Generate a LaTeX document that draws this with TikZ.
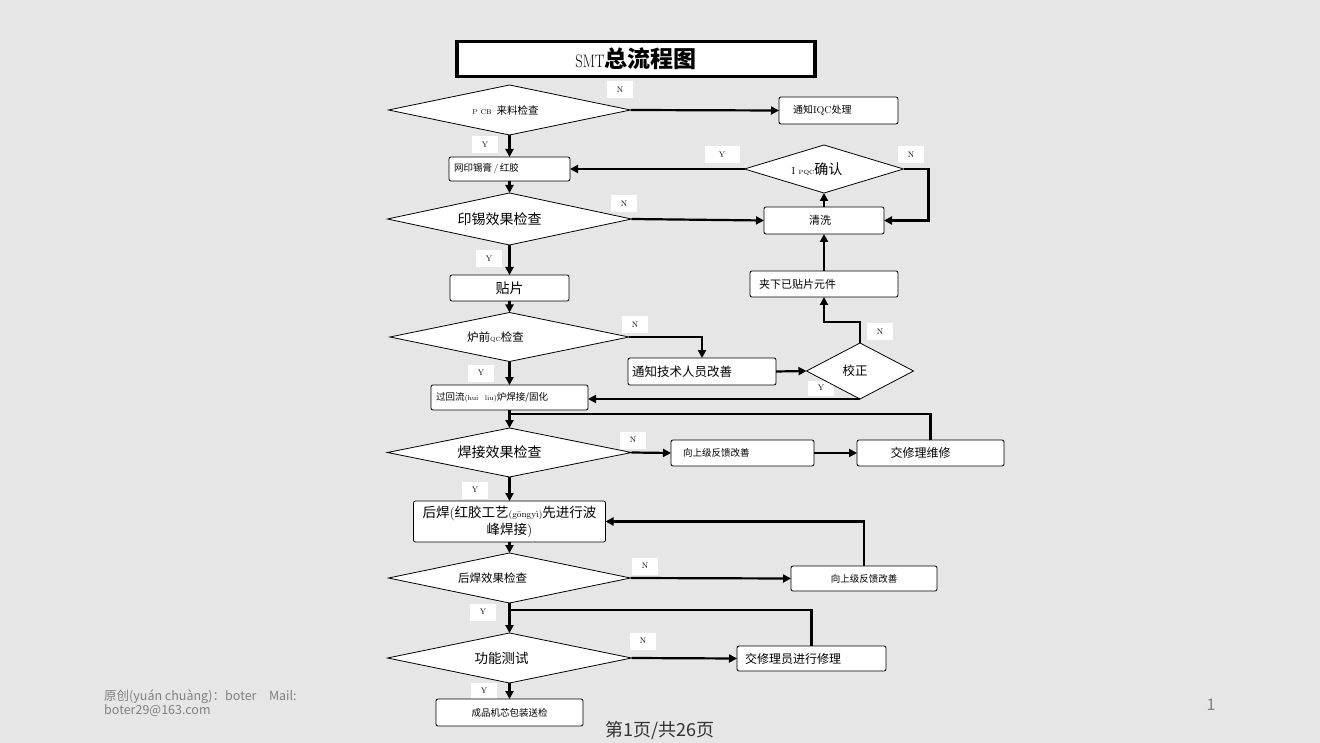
\documentclass[tikz,border=0pt]{standalone}
\usepackage{fontspec}
\newfontfamily\zhfont{Noto Sans CJK SC}
\usetikzlibrary{arrows.meta, shapes.geometric}
\definecolor{bgc}{RGB}{230,230,230}
\definecolor{ftc}{RGB}{128,128,128}
\definecolor{pgc}{RGB}{51,51,51}
\newcommand{\fsz}[1]{\fontsize{#1}{#1}\selectfont}

\begin{document}
\begin{tikzpicture}[x=1pt, y=-1pt, >={Triangle[length=8pt,width=8pt]},
  dec/.style={diamond, aspect=5, draw, fill=white, line width=0.8pt, inner sep=0pt, outer sep=0pt},
  blk/.style={draw, fill=white, rounded corners=2pt, line width=0.8pt, inner sep=0pt, outer sep=0pt},
  yn/.style={fill=white, minimum width=26pt, minimum height=17pt, inner sep=0pt, font=\fsz{8}},
  flow/.style={line width=2.2pt}]
\useasboundingbox (0,0) rectangle (1320,743);
\fill[bgc] (0,0) rectangle (1320,743);

\path (636,59) node[draw, line width=3.5pt, fill=white, minimum width=358pt, minimum height=35pt] (title) {\scalebox{0.8}[1]{\fsz{18}SMT}{\zhfont\bfseries\fsz{23}总流程图}};

\path (620,90) node[yn] (n1) {N}
      (485,145) node[yn] (y1) {Y}
      (722,155) node[yn, minimum width=35pt] (y2) {Y}
      (911,155) node[yn] (n2) {N}
      (624,204) node[yn] (n3) {N}
      (489,259) node[yn] (y3) {Y}
      (635,325) node[yn] (n4) {N}
      (880,332) node[yn] (n5) {N}
      (821,388) node[yn, minimum height=15pt] (y4) {Y}
      (481,373) node[yn] (y5) {Y}
      (633,440) node[yn] (n6) {N}
      (475,490) node[yn] (y6) {Y}
      (645,566) node[yn] (n7) {N}
      (483,612) node[yn] (y7) {Y}
      (643,641) node[yn] (n8) {N}
      (484,691) node[yn] (y8) {Y};

\path (509.5,110) node[dec, minimum width=242pt, minimum height=50pt, font=\zhfont\fsz{10.5}] (d1) {{\rmfamily\fsz{7}P CB}\ \ 来料检查\kern8pt}
      (838.5,110.5) node[blk, minimum height=27pt, text width=91pt, inner xsep=14pt, align=left, font=\zhfont\fsz{10}] (iqc) {通知{\rmfamily IQC}处理}
      (509.5,169) node[blk, minimum height=24pt, text width=111pt, inner xsep=5pt, align=left, font=\zhfont\fsz{9.5}] (yin) {网印锡膏{\rmfamily\,/\,}红胶}
      (509.5,219) node[dec, minimum width=244pt, minimum height=52pt, font=\zhfont\fsz{14}] (d2) {印锡效果检查\kern20pt}
      (824,220.5) node[blk, minimum width=120pt, minimum height=27pt, font=\zhfont\fsz{11}] (qx) {清洗\kern8pt}
      (824,169) node[dec, minimum width=159pt, minimum height=48pt, font=\zhfont\fsz{14}] (ipqc) {{\rmfamily\fsz{10}I \fsz{6}PQC}确认\kern14pt}
      (824,284) node[blk, minimum height=26pt, text width=130pt, inner xsep=9pt, align=left, font=\zhfont\fsz{11}] (jx) {夹下已贴片元件}
      (509.5,288) node[blk, minimum width=119pt, minimum height=26pt, font=\zhfont\fsz{14}] (tp) {贴片};

\path (509.5,337) node[dec, minimum width=239pt, minimum height=49pt, font=\zhfont\fsz{11.5}] (d3) {炉前{\rmfamily\fsz{6}QC}检查\kern28pt}
      (702,371.5) node[blk, minimum height=27pt, text width=140pt, inner xsep=4pt, align=left, font=\zhfont\fsz{12.5}] (tz) {通知技术人员改善}
      (860,371) node[dec, minimum width=107pt, minimum height=56pt, font=\zhfont\fsz{12.5}] (jz) {校正\kern10pt}
      (509.5,397.5) node[blk, minimum height=25pt, text width=147pt, inner xsep=5pt, align=left, font=\zhfont\fsz{9.5}] (hl) {过回流{\rmfamily\fsz{7}(hui\ \ liu)}炉焊接/固化};

\path (509.5,452.5) node[dec, minimum width=244pt, minimum height=49pt, font=\zhfont\fsz{14}] (d4) {焊接效果检查\kern20pt}
      (742.5,453) node[blk, minimum height=26pt, text width=119pt, inner xsep=12pt, align=left, font=\zhfont\fsz{9.5}] (fk1) {向上级反馈改善}
      (930.5,453) node[blk, minimum width=147pt, minimum height=26pt, font=\zhfont\fsz{12}] (jw) {交修理维修\kern20pt}
      (509.5,521.5) node[blk, minimum height=41pt, text width=188pt, inner xsep=2pt, align=center, font=\zhfont\fontsize{13.5}{17}\selectfont] (hh) {后焊{\rmfamily(}红胶工艺{\rmfamily\fsz{9}(gōngyì)}先进行波\\峰焊接{\rmfamily)}};

\path (509.5,578) node[dec, minimum width=242pt, minimum height=50pt, font=\zhfont\fsz{11.5}] (d5) {后焊效果检查\kern34pt}
      (864,578.5) node[blk, minimum width=146pt, minimum height=25pt, font=\zhfont\fsz{9.5}] (fk2) {向上级反馈改善}
      (509.5,658) node[dec, minimum width=244pt, minimum height=50pt, font=\zhfont\fsz{13.5}] (d6) {功能测试\kern16pt}
      (811.5,658.5) node[blk, minimum height=25pt, text width=133pt, inner xsep=8pt, align=left, font=\zhfont\fsz{12}] (jr) {交修理员进行修理}
      (509.5,712.5) node[blk, minimum width=147pt, minimum height=27pt, font=\zhfont\fsz{9.5}] (cp) {成品机芯包装送检};

\coordinate (m1) at (509.5,414);
\coordinate (m2) at (509.5,610);

\draw[flow, ->] (d1.east) -- (iqc.west);
\draw[flow, ->] (d1.south) -- (yin.north);
\draw[flow, ->] (yin.south) -- (d2.north);
\draw[flow, ->] (d2.east) -- (qx.west);
\draw[flow, ->] (qx.north) -- (ipqc.south);
\draw[flow, ->] (ipqc.west) -- (yin.east);
\draw[flow, ->] (ipqc.east) -- ++(25,0) |- (qx.east);
\draw[flow, ->] (jx.north) -- (qx.south);
\draw[flow, ->] (d2.south) -- (tp.north);
\draw[flow, ->] (tp.south) -- (d3.north);
\draw[flow, ->] (d3.east) -| (tz.north);
\draw[flow, ->] (tz.east) -- (jz.west);
\draw[flow, ->] (jz.north) -- ++(0,-21) -| (jx.south);
\draw[flow, ->] (jz.south) -- (jz.south -| hl.east);
\draw[flow, ->] (d3.south) -- (hl.north);
\draw[flow, ->] (hl.south) -- (d4.north);
\draw[flow] (jw.north) |- (m1);
\draw[flow, ->] (d4.east) -- (fk1.west);
\draw[flow, ->] (fk1.east) -- (jw.west);
\draw[flow, ->] (d4.south) -- (hh.north);
\draw[flow, ->] (hh.south) -- (d5.north);
\draw[flow, ->] (fk2.north) |- (hh.east);
\draw[flow, ->] (d5.east) -- (fk2.west);
\draw[flow, ->] (d5.south) -- (d6.north);
\draw[flow] (jr.north) |- (m2);
\draw[flow, ->] (d6.east) -- (jr.west);
\draw[flow, ->] (d6.south) -- (cp.north);

\path (104,689) node[anchor=north west, align=left, inner sep=0pt, text=ftc, font=\zhfont\fontsize{12.5}{13}\selectfont] (ft) {原创(yuán chuàng)：boter\quad Mail:\\boter29@163.com}
      (1211,705) node[text=ftc, font=\zhfont\fsz{16}] (pg) {1}
      (660,731) node[text=pgc, font=\zhfont\fsz{18}] (pn) {第1页/共26页};
\end{tikzpicture}
\end{document}
